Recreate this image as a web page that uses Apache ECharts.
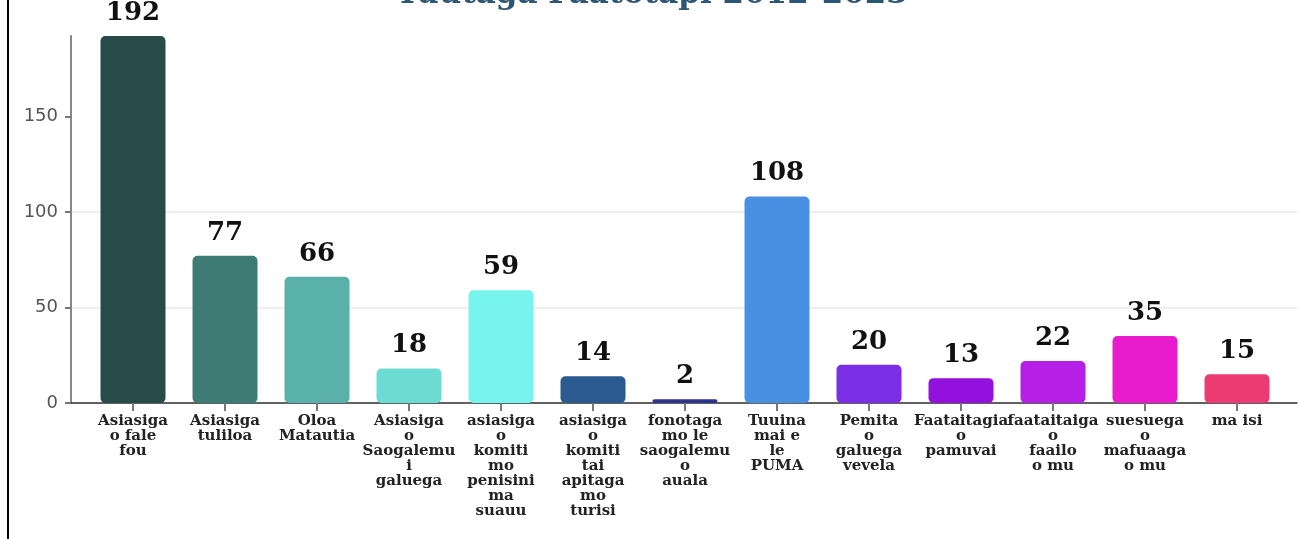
<!DOCTYPE html>
<html>
<head>
<meta charset="utf-8">
<script src="https://cdn.jsdelivr.net/npm/echarts@6/dist/echarts.min.js"></script>
<style>
  html, body { margin: 0; padding: 0; background: #fff; }
  #chart { position: absolute; left: 0; top: 0; width: 1304px; height: 539px; }
  .frame { position: absolute; left: 7px; top: 0; width: 2px; height: 539px; background: #000; }
</style>
</head>
<body>
<div id="chart"></div>
<div class="frame"></div>
<script>
// categories (line breaks as in the wrapped tick labels)
const categories = [
  'Asiasiga\no fale\nfou',
  'Asiasiga\ntuliloa',
  'Oloa\nMatautia',
  'Asiasiga\no\nSaogalemu\ni\ngaluega',
  'asiasiga\no\nkomiti\nmo\npenisini\nma\nsuauu',
  'asiasiga\no\nkomiti\ntai\napitaga\nmo\nturisi',
  'fonotaga\nmo le\nsaogalemu\no\nauala',
  'Tuuina\nmai e\nle\nPUMA',
  'Pemita\no\ngaluega\nvevela',
  'Faataitagia\no\npamuvai',
  'faataitaiga\no\nfaailo\no mu',
  'suesuega\no\nmafuaaga\no mu',
  'ma isi'
];

const counts = [192, 77, 66, 18, 59, 14, 2, 108, 20, 13, 22, 35, 15];

const barColors = [
  '#264b49', '#3f7b75', '#5ab1aa', '#6cdcd3', '#78f4ee', '#2b5a91', '#2f3490',
  '#4a90e2', '#7a2ee6', '#9410dc', '#b61fe6', '#e81ccc', '#ec3b72'
];

const yTicks = [0, 50, 100, 150];

const chart = echarts.init(document.getElementById('chart'));

const positions = categories.map((name, idx) => idx);

const option = {
  animation: false,
  title: {
    text: 'Tuutaga Faatotapi 2012-2023',
    left: 'center',
    top: -26,
    textStyle: {
      fontFamily: 'DejaVu Serif',
      fontSize: 31,
      fontWeight: 'bold',
      color: '#2e5675'
    }
  },
  grid: {
    left: 71,
    right: 7,
    top: 36,
    bottom: 136
  },
  xAxis: {
    type: 'value',
    min: -0.674,
    max: 12.652,
    splitLine: { show: false },
    axisLine: {
      show: true,
      onZero: false,
      lineStyle: { color: '#333', width: 1.5 }
    },
    axisTick: {
      show: true,
      customValues: positions,
      length: 8,
      lineStyle: { color: '#777', width: 2 }
    },
    axisLabel: {
      customValues: positions,
      margin: 11,
      formatter: value => categories[Math.round(value)] || '',
      fontFamily: 'DejaVu Serif',
      fontWeight: 'bold',
      fontSize: 15,
      lineHeight: 15,
      color: '#222',
      align: 'center',
      verticalAlign: 'top'
    }
  },
  yAxis: {
    type: 'value',
    min: 0,
    max: 192,
    axisLine: {
      show: true,
      onZero: false,
      lineStyle: { color: '#888', width: 2 }
    },
    axisTick: {
      show: true,
      customValues: yTicks,
      length: 6,
      lineStyle: { color: '#777', width: 2 }
    },
    axisLabel: {
      customValues: yTicks,
      margin: 13,
      fontFamily: 'DejaVu Sans',
      fontSize: 18,
      color: '#555'
    },
    splitLine: {
      show: true,
      showMaxLine: false,
      lineStyle: { color: '#e8e8e8', width: 1.5 }
    }
  },
  series: [
    {
      type: 'bar',
      barWidth: 65,
      data: counts.map((value, idx) => ({
        value: [idx, value],
        itemStyle: {
          color: barColors[idx],
          borderRadius: 5
        }
      })),
      label: {
        show: true,
        position: 'top',
        distance: 10,
        formatter: p => p.value[1],
        fontFamily: 'DejaVu Serif',
        fontWeight: 'bold',
        fontSize: 26,
        color: '#111'
      }
    }
  ]
};

chart.setOption(option);
</script>
</body>
</html>
